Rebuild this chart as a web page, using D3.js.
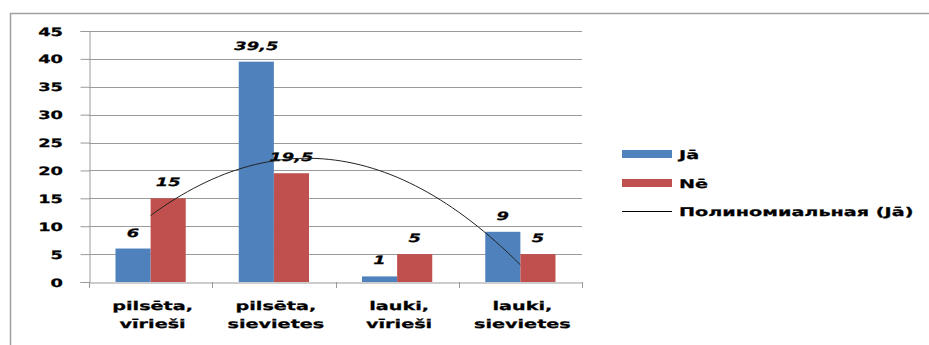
<!DOCTYPE html>
<html>
<head>
<meta charset="utf-8">
<script src="https://cdn.jsdelivr.net/npm/d3@7/dist/d3.min.js"></script>
<style>
  html, body { margin: 0; padding: 0; background: #fff; }
  svg { display: block; }
  text { font-family: "DejaVu Sans", sans-serif; font-weight: bold; fill: #000; stroke: #000; stroke-width: 0.25px; text-rendering: geometricPrecision; }
</style>
</head>
<body>
<svg id="chart" width="929" height="345"></svg>
<script>
// Survey answers by group
const categories = [["pilsēta,", "vīrieši"], ["pilsēta,", "sievietes"], ["lauki,", "vīrieši"], ["lauki,", "sievietes"]];
const seriesNames = ["Jā", "Nē"];
const jaValues = [6, 39.5, 1, 9];
const neValues = [15, 19.5, 5, 5];
const yTicks = [0, 5, 10, 15, 20, 25, 30, 35, 40, 45];
const trendName = "Полиномиальная (Jā)";
const colors = ["#4F81BD", "#C0504D"];

const svg = d3.select("#chart");
const SX = 1.5; // wide lettering

function stretchedText(parent, x, y, str, opts = {}) {
  const g = parent.append("g").attr("transform", `translate(${x},${y}) scale(${opts.sx || SX},1)`);
  const t = g.append("text").attr("x", 0).attr("y", 0)
    .attr("text-anchor", opts.anchor || "middle")
    .style("font-size", (opts.size || 12) + "px")
    .text(str);
  if (opts.italic) t.style("font-style", "italic");
  return t;
}

// outer chart frame
svg.append("path")
  .attr("d", "M10.5,350 L10.5,13.5 L935,13.5")
  .attr("fill", "none").attr("stroke", "#a0a0a0").attr("stroke-width", 1.5);

const plot = { left: 89, right: 582, top: 31, bottom: 282 };

const x = d3.scaleBand().domain(d3.range(categories.length))
  .range([plot.left, plot.right]).paddingInner(0).paddingOuter(0);
const y = d3.scaleLinear().domain([0, 45]).range([plot.bottom, plot.top]);
const groupPad = 0.215;
const xs = d3.scaleBand().domain(seriesNames)
  .range([x.bandwidth() * groupPad, x.bandwidth() * (1 - groupPad)]);

// horizontal gridlines
svg.append("g").selectAll("line").data(yTicks.filter(d => d > 0)).join("line")
  .attr("x1", plot.left).attr("x2", plot.right)
  .attr("y1", d => Math.round(y(d)) + 0.5).attr("y2", d => Math.round(y(d)) + 0.5)
  .attr("stroke", "#9a9a9a").attr("stroke-width", 1);

// y axis
const yAxis = svg.append("g").attr("transform", `translate(${plot.left + 0.5},0)`)
  .call(d3.axisLeft(y).tickValues(yTicks).tickSize(9).tickFormat(""));
yAxis.select(".domain").attr("stroke", "#9a9a9a");
yAxis.selectAll(".tick line").attr("stroke", "#9a9a9a");
yTicks.forEach(v => stretchedText(svg, 63, y(v) + 4.5, String(v), { anchor: "end", size: 11.5, sx: 1.55 }));

// x axis
const xAxis = svg.append("g").attr("transform", `translate(0,${plot.bottom + 0.5})`)
  .call(d3.axisBottom(x).tickSize(0).tickFormat(""));
xAxis.select(".domain").attr("stroke", "#9a9a9a");
const catEdges = d3.range(categories.length + 1).map(i => plot.left + i * x.bandwidth());
svg.append("g").selectAll("line").data(catEdges).join("line")
  .attr("x1", d => Math.round(d) + 0.5).attr("x2", d => Math.round(d) + 0.5)
  .attr("y1", plot.bottom).attr("y2", plot.bottom + 6)
  .attr("stroke", "#9a9a9a");

categories.forEach((c, i) => {
  const cx = x(i) + x.bandwidth() / 2 + 2;
  stretchedText(svg, cx, 310, c[0], { size: 12, sx: 1.6 });
  stretchedText(svg, cx, 328, c[1], { size: 12, sx: 1.6 });
});

// bars
const series = [jaValues, neValues];
series.forEach((vals, s) => {
  svg.append("g").selectAll("rect").data(vals).join("rect")
    .attr("x", (d, i) => x(i) + xs(seriesNames[s]))
    .attr("width", xs.bandwidth())
    .attr("y", d => y(d))
    .attr("height", d => y(0) - y(d))
    .attr("fill", colors[s]);
});

// value labels
series.forEach((vals, s) => {
  vals.forEach((v, i) => {
    const cx = x(i) + xs(seriesNames[s]) + xs.bandwidth() / 2;
    stretchedText(svg, cx, y(v) - 12, String(v).replace(".", ","), { size: 11.5, italic: true, sx: 1.55 });
  });
});

// second-order polynomial trend of Jā (least squares)
function polyFit2(ys) {
  const n = ys.length, xsv = ys.map((_, i) => i + 1);
  const S = k => d3.sum(xsv, v => Math.pow(v, k));
  const T = k => d3.sum(xsv, (v, i) => Math.pow(v, k) * ys[i]);
  const A = [[n, S(1), S(2)], [S(1), S(2), S(3)], [S(2), S(3), S(4)]];
  const b = [T(0), T(1), T(2)];
  // Gaussian elimination
  for (let i = 0; i < 3; i++) {
    for (let j = i + 1; j < 3; j++) {
      const f = A[j][i] / A[i][i];
      for (let k = i; k < 3; k++) A[j][k] -= f * A[i][k];
      b[j] -= f * b[i];
    }
  }
  const c = [0, 0, 0];
  for (let i = 2; i >= 0; i--) {
    let s = b[i];
    for (let k = i + 1; k < 3; k++) s -= A[i][k] * c[k];
    c[i] = s / A[i][i];
  }
  return t => c[0] + c[1] * t + c[2] * t * t;
}
const trend = polyFit2(jaValues);
const centerX = t => x(0) + x.bandwidth() / 2 + (t - 1) * x.bandwidth();
const trendPts = d3.range(1, jaValues.length + 0.001, 0.05).map(t => [centerX(t), y(trend(t))]);
svg.append("path")
  .attr("d", d3.line().curve(d3.curveLinear)(trendPts))
  .attr("fill", "none").attr("stroke", "#222").attr("stroke-width", 1);

// legend
const lg = svg.append("g");
seriesNames.forEach((name, i) => {
  const ly = 154 + i * 29;
  lg.append("rect").attr("x", 622).attr("y", ly - 4).attr("width", 50).attr("height", 8).attr("fill", colors[i]);
  stretchedText(lg, 679, ly + 4.5, name, { anchor: "start", size: 12, sx: 1.6 });
});
lg.append("line").attr("x1", 622).attr("x2", 672).attr("y1", 211.5).attr("y2", 211.5)
  .attr("stroke", "#000").attr("stroke-width", 1);
stretchedText(lg, 679, 216, trendName, { anchor: "start", size: 12, sx: 1.6 });
</script>
</body>
</html>
